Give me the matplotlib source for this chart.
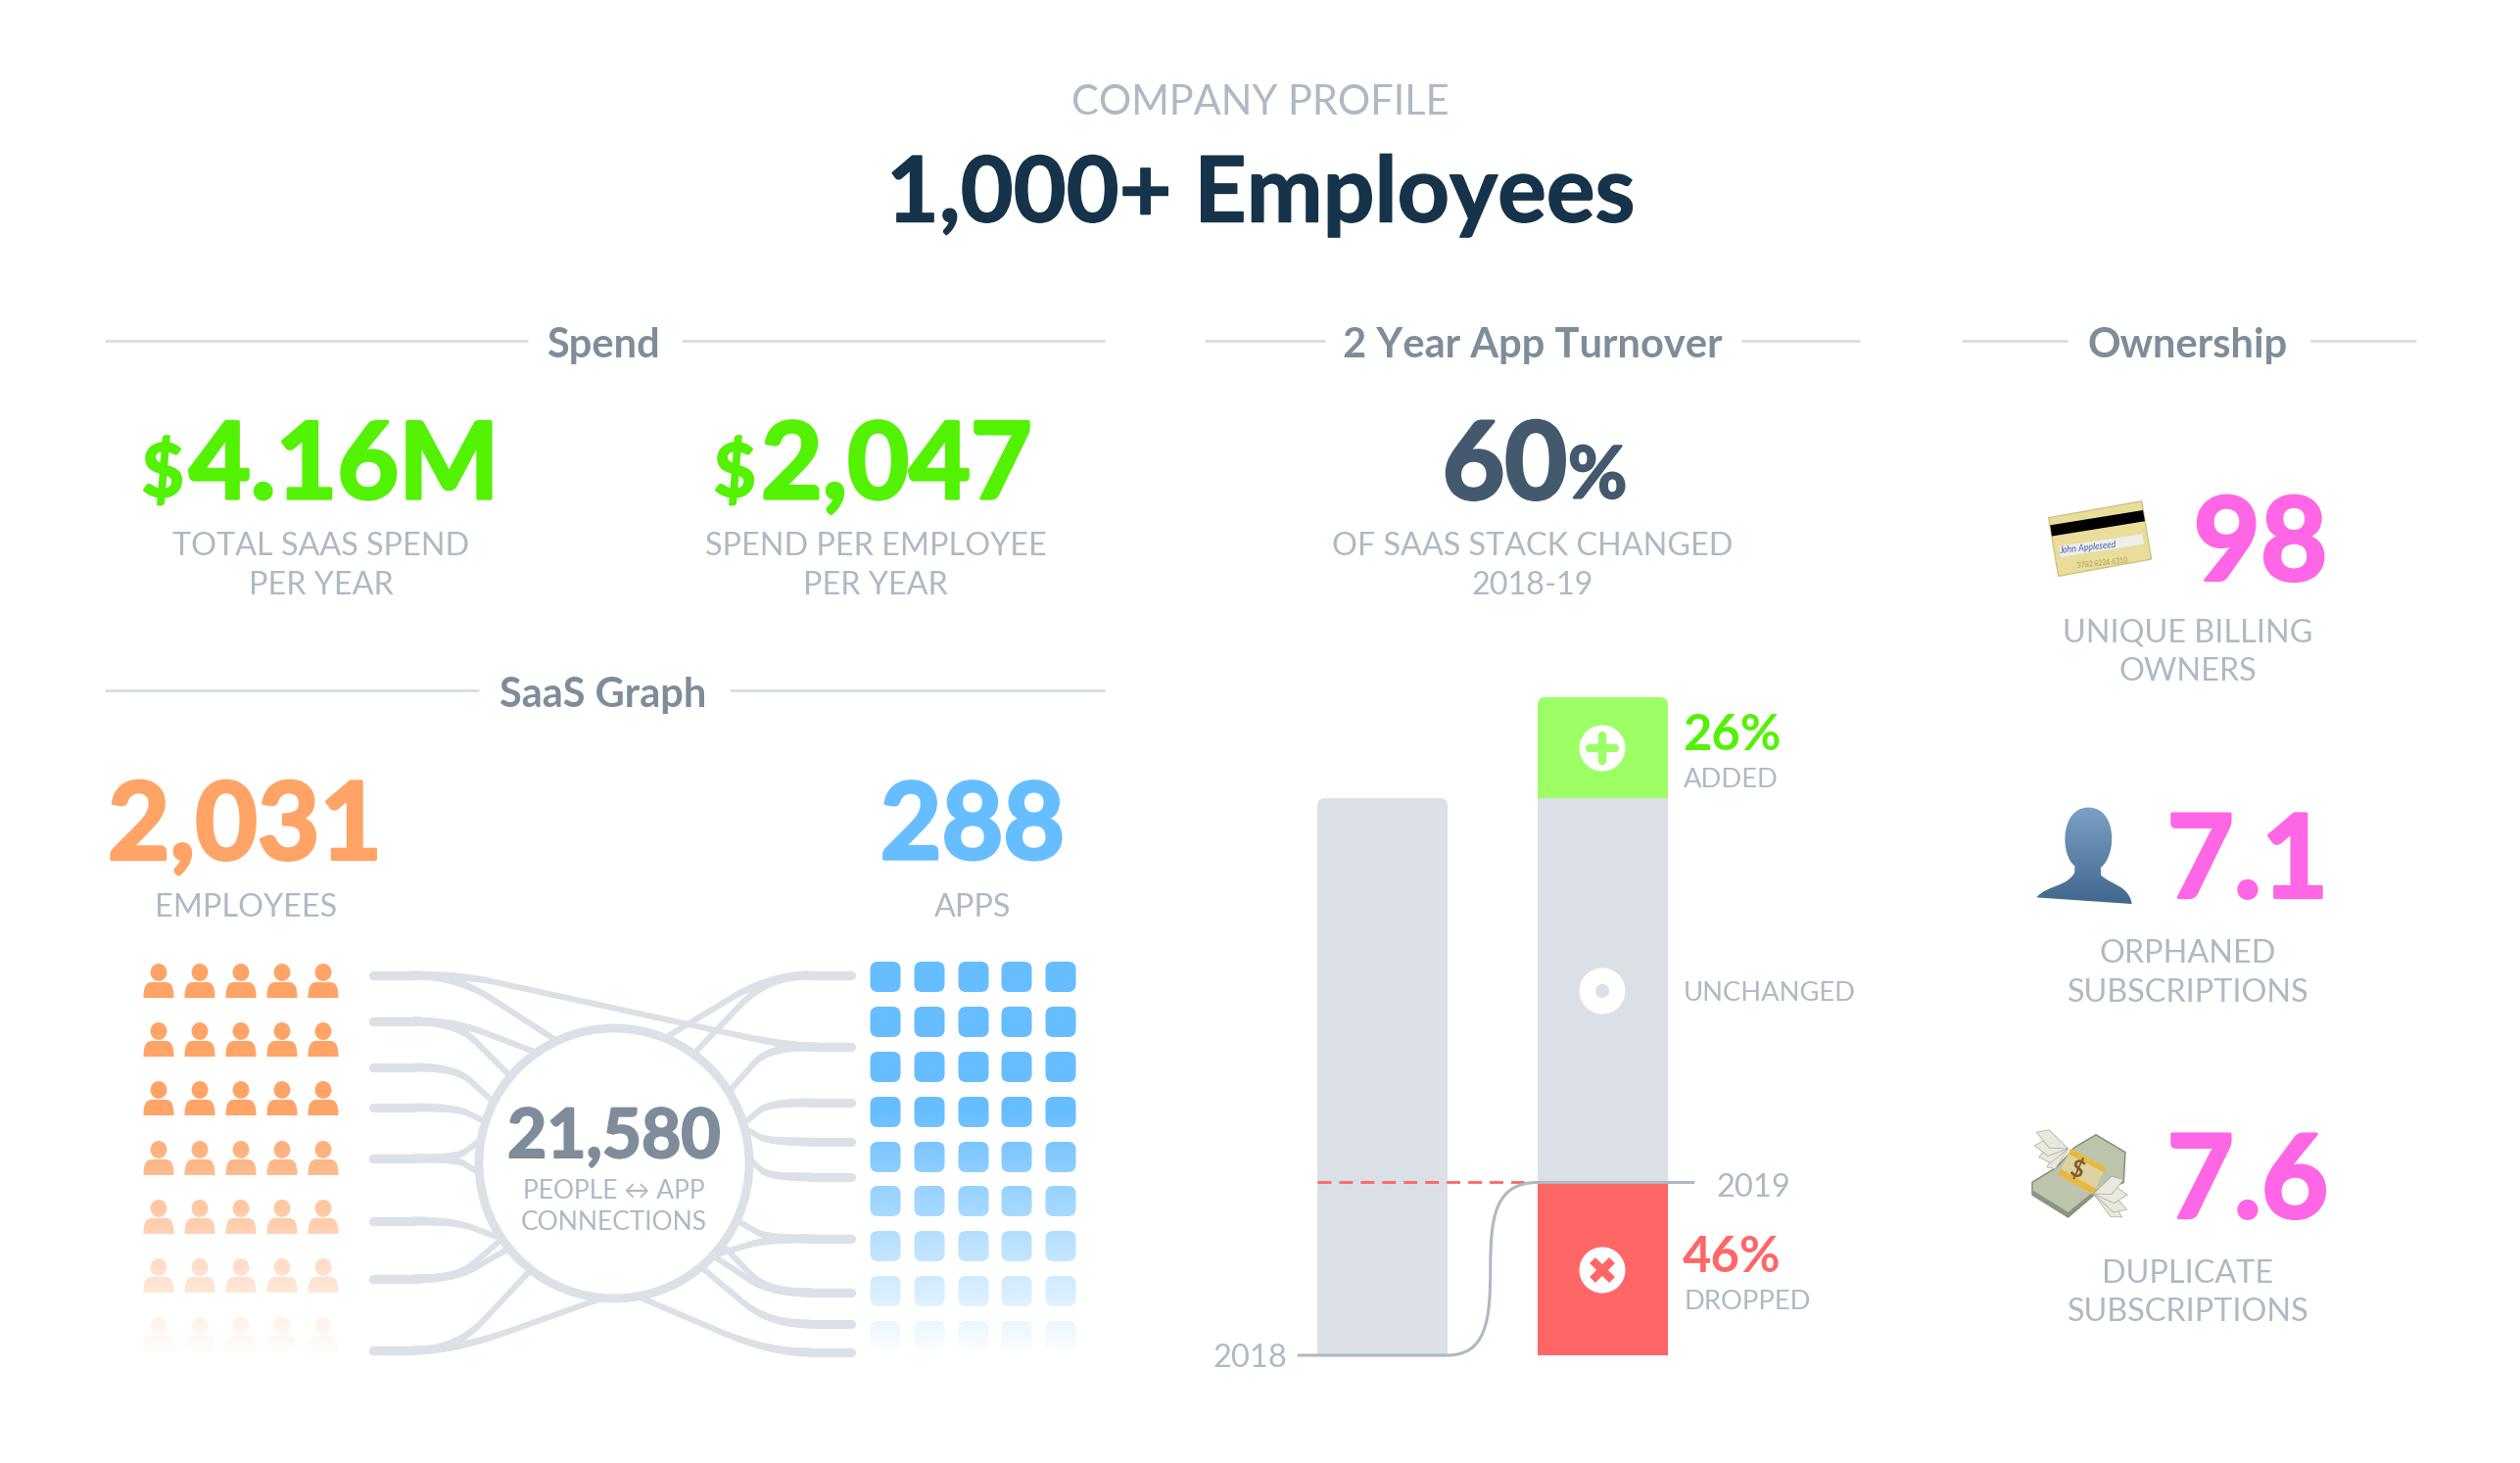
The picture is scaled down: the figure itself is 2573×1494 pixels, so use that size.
import numpy as np
import matplotlib
matplotlib.use('Agg')
import matplotlib.pyplot as plt
import matplotlib.patheffects as pe
from matplotlib.collections import LineCollection
from matplotlib.path import Path
from matplotlib.patches import PathPatch, Circle, Ellipse, Polygon, FancyBboxPatch

W, H = 2573, 1494

# chart data
bar_years = ['2018', '2019']
bar_2018 = [100]
bar_dropped = [31]
bar_unchanged = [69]
bar_added = [18]
pct_added = '26%'
pct_dropped = '46%'

spend_total = '4.16M'
spend_per_emp = '2,047'
turnover = '60'
employees = '2,031'
apps = '288'
connections = '21,580'
billing_owners = '98'
orphaned = '7.1'
duplicate = '7.6'

people_rows = 7
people_cols = 5
app_rows = 9
app_cols = 5

# link ends: left row -> angle on the ring, right row -> angle on the ring
left_links = [(0, 115), (1, 125), (1, 140), (2, 153), (3, 162), (4, 170), (4, 184),
              (5, 214), (6, 214), (6, 219), (7, 232), (7, 265)]
right_links = [(0, 68), (0, 54), (1, 32), (2, 17), (3, 15), (4, 2), (5, -25), (5, -43),
               (6, -37), (6, -43), (7, -50), (8, -80)]

# layout, pixels
left_y = [996, 1043, 1090, 1131, 1183, 1247, 1306, 1379]
right_y = [996, 1069, 1126, 1166, 1202, 1265, 1320, 1352, 1381]
people_x = [162, 204, 246, 288, 330]
people_y = [984, 1044, 1104, 1165, 1225, 1285, 1345]
app_x = [904, 949, 994, 1038, 1083]
app_y = [982, 1028, 1074, 1120, 1166, 1211, 1257, 1303, 1349]
ring_x, ring_y, ring_r = 627, 1188, 138

GREY = '#aeb9c3'
HEAD = '#7f8d9a'
RULE = '#dadfe4'
LINK = '#dbe1e6'
GREEN = '#52f202'
PINK = '#ff66e5'
ORANGE = '#ffa366'
BLUE = '#66bdff'
RED = '#ff6666'

plt.rcParams['font.family'] = ['Lato', 'DejaVu Sans']

fig = plt.figure(figsize=(W / 100, H / 100), dpi=100, facecolor='white')
ax = fig.add_axes([0, 0, 1, 1], zorder=2)
ax.set_xlim(0, W)
ax.set_ylim(H, 0)
ax.axis('off')
ax.patch.set_alpha(0)


def label(x, yc, s, pt, color=GREY, ha='center', weight='normal', **kw):
    # yc is the middle of the capitals
    base = yc + 0.36 * pt * 100 / 72
    return ax.text(x, base, s, fontsize=pt, color=color, ha=ha, va='baseline', fontweight=weight, **kw)


def big(x, yc, s, pt, color, ha='center', stroke=2.4, **kw):
    # heaviest Lato installed is lighter than the picture, so fatten it a little
    t = label(x, yc, s, pt, color=color, ha=ha, weight='bold', **kw)
    t.set_path_effects([pe.withStroke(linewidth=stroke, foreground=color)])
    return t


def section(title, xc, y, spans):
    label(xc, y + 2, title, 30, color=HEAD, weight='bold')
    for a, b in spans:
        ax.plot([a, b], [y, y], color=RULE, lw=2.2, solid_capstyle='butt')


# titles
label(1287, 102, 'COMPANY PROFILE', 30, color=GREY)
big(1287, 193, '1,000+ Employees', 67, '#16334a', stroke=1)

section('Spend', 616, 348, [(107, 539), (696, 1128)])
section('2 Year App Turnover', 1565, 348, [(1230, 1353), (1778, 1899)])
section('Ownership', 2234, 348, [(2003, 2111), (2359, 2467)])
section('SaaS Graph', 616, 705, [(107, 489), (745, 1128)])

# big figures
big(188, 480, '$', 54, GREEN, ha='right', stroke=1.5)
big(193, 470, spend_total, 78, GREEN, ha='left')
big(772, 480, '$', 54, GREEN, ha='right', stroke=1.5)
big(777, 470, spend_per_emp, 78, GREEN, ha='left')
big(1600, 470, turnover, 79, '#44596e', ha='right')
big(1601, 482, '%', 53, '#44596e', ha='left', stroke=1.5)

for x, y, s in [(328, 555, 'TOTAL SAAS SPEND'), (328, 595, 'PER YEAR'),
                (894, 555, 'SPEND PER EMPLOYEE'), (894, 595, 'PER YEAR'),
                (1565, 555, 'OF SAAS STACK CHANGED'), (1565, 595, '2018-19'),
                (251, 924, 'EMPLOYEES'), (993, 924, 'APPS'),
                (2234, 644, 'UNIQUE BILLING'), (2234, 683, 'OWNERS'),
                (2234, 971, 'ORPHANED'), (2234, 1011, 'SUBSCRIPTIONS'),
                (2234, 1298, 'DUPLICATE'), (2234, 1337, 'SUBSCRIPTIONS')]:
    label(x, y, s, 23.3)

big(250, 838, employees, 79, ORANGE)
big(993, 838, apps, 78, BLUE)
big(2308, 550, billing_owners, 85, PINK)
big(2295, 874, orphaned, 85, PINK)
big(2295, 1201, duplicate, 85, PINK)

# people icons
for r in range(people_rows):
    for c in range(people_cols):
        x, y = people_x[c], people_y[r]
        body = Path([(x - 15.5, y + 35), (x - 15.5, y + 24), (x - 13, y + 19), (x - 7, y + 19),
                     (x + 7, y + 19), (x + 13, y + 19), (x + 15.5, y + 24), (x + 15.5, y + 35),
                     (x - 15.5, y + 35)],
                    [Path.MOVETO, Path.CURVE4, Path.CURVE4, Path.CURVE4, Path.LINETO,
                     Path.CURVE4, Path.CURVE4, Path.CURVE4, Path.CLOSEPOLY])
        ax.add_patch(PathPatch(body, fc=ORANGE, ec='none', zorder=3))
        ax.add_patch(Ellipse((x, y + 9), 18, 19, fc=ORANGE, ec='white', lw=0.8, zorder=3))

# app icons
for r in range(app_rows):
    for c in range(app_cols):
        ax.add_patch(FancyBboxPatch((app_x[c] - 15.5 + 6, app_y[r] + 6), 19, 19,
                                    boxstyle='round,pad=6,rounding_size=8', fc=BLUE, ec='none', zorder=3))


def fade(x0, x1, y0, y1):
    rgba = np.ones((256, 2, 4))
    rgba[:, :, 3] = np.linspace(0, 1, 256)[:, None]
    ax.imshow(rgba, extent=(x0, x1, y1, y0), aspect='auto', zorder=4, interpolation='bilinear')


fade(135, 355, 1130, 1382)
fade(880, 1108, 1130, 1382)
ax.set_xlim(0, W)
ax.set_ylim(H, 0)


# links: thick stub, rounded bend, then a thinner straight run
def quad(p0, p1, p2, n=16):
    t = np.linspace(0, 1, n)[:, None]
    return (1 - t) ** 2 * np.array(p0) + 2 * t * (1 - t) * np.array(p1) + t ** 2 * np.array(p2)


def draw_link(x0, y0, ang, side):
    a = np.radians(ang)
    ex, ey = ring_x + ring_r * np.cos(a), ring_y - ring_r * np.sin(a)
    stub = (x0 + side * 42, y0)
    v = np.array([x0 + side * 84, y0])
    m = v + 0.37 * (np.array([ex, ey]) - v)
    pts = np.vstack([[(x0, y0)], quad(stub, v, m), [(ex, ey)]])
    segs = np.stack([pts[:-1], pts[1:]], axis=1)
    widths = np.linspace(6.6, 4.4, len(segs) - 1).tolist() + [4.4]
    ax.add_collection(LineCollection(segs, colors=LINK, linewidths=widths, capstyle='round', zorder=1))


for row, ang in left_links:
    draw_link(381, left_y[row], ang, 1)
for row, ang in right_links:
    draw_link(869, right_y[row], ang, -1)

# the one link passing over the top of the ring
pts = np.vstack([[(381, left_y[0])], quad((420, left_y[0]), (473, left_y[0]), (501, 1002)),
                 quad((753, 1057), (808, right_y[1]), (834, right_y[1])), [(869, right_y[1])]])
segs = np.stack([pts[:-1], pts[1:]], axis=1)
half = len(segs) // 2
widths = np.linspace(6.6, 4.4, half).tolist() + np.linspace(4.4, 6.6, len(segs) - half).tolist()
ax.add_collection(LineCollection(segs, colors=LINK, linewidths=widths, capstyle='round', zorder=1))

ax.add_patch(Circle((ring_x, ring_y), ring_r, fc='white', ec=LINK, lw=6.4, zorder=2))
big(ring_x, 1157, connections, 50, HEAD, stroke=1.6, zorder=5)
label(ring_x, 1214, 'PEOPLE \u2194 APP', 19, zorder=5)
label(ring_x, 1246, 'CONNECTIONS', 19, zorder=5)

# stacked bars, on their own axes
bar_l, bar_r, bar_top, bar_bot = 1345, 1703, 712, 1384
ax_bar = fig.add_axes([bar_l / W, 1 - bar_bot / H, (bar_r - bar_l) / W, (bar_bot - bar_top) / H], zorder=1)
ax_bar.set_xlim(-0.294, 1.294)
ax_bar.set_ylim(0, bar_dropped[0] + bar_unchanged[0] + bar_added[0])
ax_bar.axis('off')
bw = 0.588
b18 = ax_bar.bar(0, bar_2018, bw, color='#dae0e6')[0]
ax_bar.bar(1, bar_dropped, bw, color=RED)
ax_bar.bar(1, bar_unchanged, bw, bottom=bar_dropped, color='#dae0e6')
b_add = ax_bar.bar(1, bar_added, bw, bottom=[bar_dropped[0] + bar_unchanged[0]], color='#9dff66')[0]

# rounded tops
for bar, left, top in [(b18, bar_l, 815), (b_add, 1570, bar_top)]:
    clip = FancyBboxPatch((left, top), 133, 640, boxstyle='round,pad=0,rounding_size=8',
                          transform=ax.transData)
    bar.set_clip_path(clip)

# dashed 2019 level and the step between the bars
ax_bar.plot([-0.294, 0.66], [bar_dropped[0]] * 2, color=RED, lw=2, dashes=(5, 2.9), clip_on=False)
d = bar_dropped[0]
step = Path([(-0.384, 0), (0.294, 0), (0.47, 0), (0.49, 0.2 * d), (0.49, 0.5 * d),
             (0.49, 0.8 * d), (0.51, d), (0.706, d), (1.415, d)],
            [Path.MOVETO, Path.LINETO, Path.CURVE4, Path.CURVE4, Path.CURVE4,
             Path.CURVE4, Path.CURVE4, Path.CURVE4, Path.LINETO])
ax_bar.add_patch(PathPatch(step, fc='none', ec='#aeb9c3', lw=2.2, clip_on=False, zorder=5))

label(1314, 1384, bar_years[0], 23.5, ha='right')
label(1753, 1210, bar_years[1], 23.5, ha='left')

label(1718, 748, pct_added, 36.5, color=GREEN, ha='left', weight='bold')
label(1719, 794, 'ADDED', 19.7, ha='left')
label(1719, 1012, 'UNCHANGED', 19.7, ha='left')
label(1718, 1281, pct_dropped, 36.5, color=RED, ha='left', weight='bold')
label(1719, 1327, 'DROPPED', 19.7, ha='left')

# bar icons
for y in (764, 1012, 1297):
    ax.add_patch(Circle((1636, y), 23.5, fc='white', ec='none', zorder=3))
ax.plot([1623, 1649], [764, 764], color='#9dff66', lw=6, solid_capstyle='round', zorder=4)
ax.plot([1636, 1636], [751, 777], color='#9dff66', lw=6, solid_capstyle='round', zorder=4)
ax.add_patch(Circle((1636, 1012), 7, fc='#dae0e6', ec='none', zorder=4))
ax.plot([1626, 1646], [1287, 1307], color=RED, lw=6, solid_capstyle='butt', zorder=4)
ax.plot([1626, 1646], [1307, 1287], color=RED, lw=6, solid_capstyle='butt', zorder=4)


# ownership pictures, sketched from the crop of that column
def z(x, y):
    return 2040 + x / 3, 470 + y / 1.96


def poly(points, **kw):
    p = Polygon([z(*q) for q in points], closed=True, **kw)
    ax.add_patch(p)
    return p


# card
poly([(155, 115), (440, 82), (470, 198), (185, 232)], fc='#e9dd9b', ec='#cfc382', lw=1, joinstyle='round')
poly([(160, 130), (444, 100), (450, 122), (165, 152)], fc='black', ec='none')
poly([(187, 172), (442, 148), (447, 168), (191, 194)], fc='#eeeeea', ec='none')
ax.text(*z(275, 176), 'John Appleseed', fontsize=6.5, color='#3f66b5', style='italic', rotation=6,
        ha='center', va='center')
ax.text(*z(320, 205), '3782 8224 6310', fontsize=5, color='#a89c5c', rotation=6, ha='center', va='center')

# bust, blue fade clipped to its outline
bust = Path([z(118, 875), z(150, 850), z(210, 855), z(235, 825), z(235, 812), z(190, 790), z(190, 695),
             z(277, 695), z(365, 695), z(365, 790), z(315, 815), z(315, 830), z(345, 850), z(400, 850),
             z(410, 888), z(118, 875)],
            [Path.MOVETO, Path.CURVE4, Path.CURVE4, Path.CURVE4, Path.LINETO, Path.CURVE4, Path.CURVE4,
             Path.CURVE4, Path.CURVE4, Path.CURVE4, Path.CURVE4, Path.LINETO, Path.CURVE4, Path.CURVE4,
             Path.CURVE4, Path.CLOSEPOLY])
shape = PathPatch(bust, fc='none', ec='none')
ax.add_patch(shape)
grad = np.linspace(0, 1, 64)[:, None, None] * np.array([[[-0.24, -0.24, -0.23]]]) + np.array([[[0.49, 0.64, 0.78]]])
im = ax.imshow(grad, extent=(2075, 2180, 925, 820), aspect='auto', zorder=3)
im.set_clip_path(shape)
ax.set_xlim(0, W)
ax.set_ylim(H, 0)

# flying money
poly([(105, 1445), (180, 1415), (235, 1375), (300, 1350), (390, 1385), (385, 1445), (295, 1470),
      (215, 1515), (105, 1470)], fc='#bcc4ac', ec='#7f8a72', lw=1, joinstyle='round')
poly([(108, 1462), (215, 1505), (295, 1462), (385, 1438), (385, 1447), (295, 1472), (215, 1516), (105, 1472)],
     fc='#8b9483', ec='none')
poly([(222, 1378), (330, 1415), (290, 1470), (185, 1430)], fc='#ddd3a2', ec='none')
poly([(222, 1378), (330, 1415), (326, 1426), (216, 1388)], fc='#e8b93c', ec='none')
poly([(192, 1418), (300, 1458), (292, 1470), (185, 1430)], fc='#e8b93c', ec='none')
ax.text(*z(242, 1420), '$', fontsize=17, color='#7c5a1c', fontweight='bold', rotation=-20, ha='center', va='center')


def feather(root, tip, fat):
    rx, ry = root
    tx, ty = tip
    mx, my = 0.6 * tx + 0.4 * rx, 0.6 * ty + 0.4 * ry
    poly([root, (mx, my - fat), tip, (mx, my + fat)], fc='#e8e8de', ec='#a9a99c', lw=0.5, joinstyle='round')


for tip in [(150, 1415), (125, 1395), (112, 1372), (118, 1345)]:
    feather((215, 1378), tip, 18)
for tip in [(380, 1515), (395, 1500), (397, 1470), (385, 1440)]:
    feather((292, 1468), tip, 18)

fig.savefig('out.png', dpi=100, facecolor='white')
